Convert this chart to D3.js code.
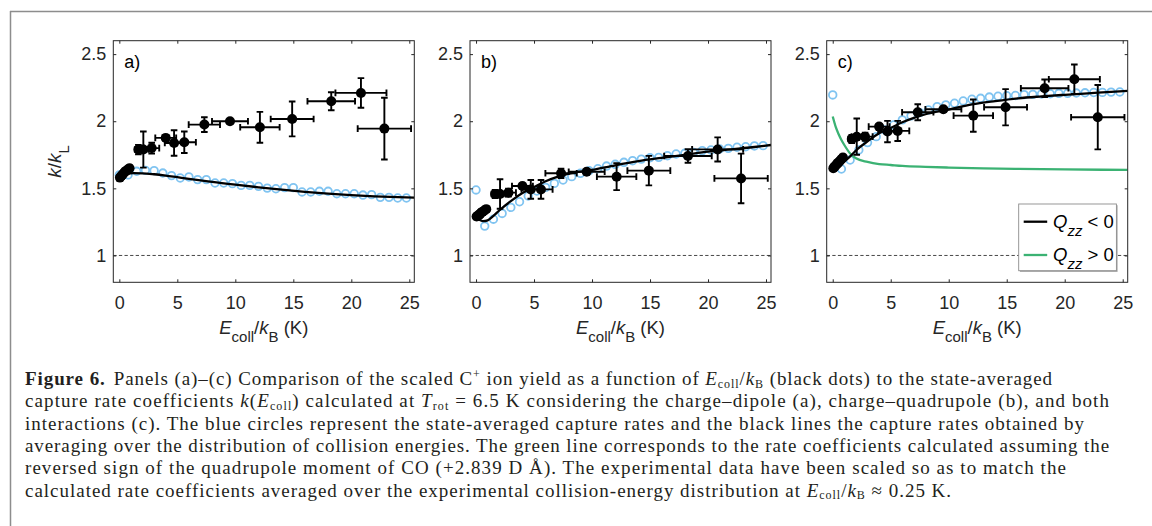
<!DOCTYPE html>
<html><head><meta charset="utf-8">
<script src="https://cdn.jsdelivr.net/npm/d3@7"></script>
<style>
html,body{margin:0;padding:0;background:#fff;}
svg{display:block;}
</style></head><body>
<svg id="fig" width="1152" height="526"></svg>
<script>
// ---- Experimental C+ yield (scaled), shared collision energies ----
const expE    = [0.05,0.15,0.25,0.35,0.45,0.58,0.72,0.88, 1.64,2.07,2.79,4.0,4.72,5.6,7.33,9.54,12.12,14.9,18.27,20.83,22.85];
const expEErr = [0.05,0.06,0.07,0.08,0.09,0.10,0.12,0.14, 0.30,0.45,0.65,0.90,0.80,1.00,1.35,1.55,1.70,1.85,2.05,2.20,2.30];

const expA    = [1.58,1.59,1.60,1.61,1.62,1.63,1.64,1.65, 1.789,1.789,1.80,1.876,1.838,1.843,1.975,2.0,1.955,2.017,2.149,2.211,1.945];
const expAErr = [0.02,0.02,0.02,0.02,0.02,0.02,0.02,0.02, 0.035,0.135,0.04,0.02,0.095,0.08,0.055,0.015,0.115,0.13,0.067,0.11,0.23];
const expB    = [1.29,1.295,1.30,1.31,1.32,1.325,1.335,1.345, 1.458,1.458,1.468,1.517,1.492,1.492,1.612,1.624,1.587,1.632,1.741,1.79,1.574];
const expBErr = [0.02,0.02,0.02,0.02,0.02,0.02,0.02,0.02, 0.03,0.11,0.03,0.02,0.07,0.07,0.035,0.015,0.10,0.11,0.05,0.09,0.185];
const expC    = [1.65,1.66,1.67,1.68,1.69,1.70,1.715,1.73, 1.868,1.885,1.885,1.96,1.923,1.928,2.067,2.089,2.042,2.104,2.246,2.313,2.03];
const expCErr = [0.02,0.02,0.02,0.02,0.02,0.02,0.02,0.02, 0.03,0.135,0.03,0.02,0.08,0.075,0.06,0.015,0.12,0.135,0.065,0.11,0.24];

// ---- State-averaged capture rates (blue circles) ----
const stateE = [0,0.75,1.5,2.25,3,3.75,4.5,5.25,6,6.75,7.5,8.25,9,9.75,10.5,11.25,12,12.75,13.5,14.25,15,15.75,16.5,17.25,18,18.75,19.5,20.25,21,21.75,22.5,23.25,24,24.75];
const stateA = [1.60,1.60,1.627,1.634,1.632,1.614,1.595,1.577,1.585,1.565,1.565,1.54,1.54,1.535,1.522,1.522,1.515,1.502,1.497,1.505,1.505,1.473,1.473,1.478,1.478,1.46,1.46,1.46,1.45,1.453,1.433,1.433,1.428,1.428];
const stateB = [1.488,1.219,1.27,1.313,1.358,1.40,1.443,1.48,1.507,1.537,1.562,1.587,1.612,1.631,1.646,1.666,1.679,1.694,1.706,1.718,1.728,1.731,1.743,1.756,1.761,1.768,1.781,1.786,1.793,1.798,1.806,1.81,1.816,1.818];
const stateC = [2.196,1.644,1.711,1.786,1.841,1.885,1.935,1.972,2.01,2.04,2.064,2.084,2.109,2.122,2.134,2.151,2.164,2.171,2.18,2.186,2.19,2.192,2.198,2.2,2.203,2.205,2.208,2.208,2.21,2.212,2.214,2.215,2.217,2.218];

// ---- Rates averaged over the collision-energy distribution (lines) ----
const avgAE = [0,0.3,0.7,1.2,2,3,4,5,6,7,8,10,12,14,16,18,20,22,24,25.43];
const avgA  = [1.585,1.60,1.61,1.613,1.612,1.605,1.595,1.583,1.571,1.56,1.548,1.527,1.508,1.49,1.474,1.46,1.449,1.44,1.434,1.431];
const avgBE = [0,0.3,0.6,1,1.5,2,3,4,5,6,7,8,10,12,14,16,18,20,22,24,25.43];
const avgB  = [1.29,1.265,1.256,1.262,1.295,1.335,1.405,1.465,1.51,1.553,1.585,1.61,1.637,1.672,1.703,1.727,1.75,1.774,1.79,1.808,1.823];
const avgCE = [0,0.5,1,1.5,2,3,4,5,6,7,8,10,12,14,16,18,20,22,24,25.43];
const avgC  = [1.64,1.665,1.70,1.738,1.782,1.85,1.91,1.95,1.992,2.025,2.052,2.087,2.125,2.15,2.171,2.185,2.197,2.208,2.219,2.226];
const posQE = [0,0.25,0.5,0.75,1,1.5,2,3,4,5,6,8,10,13,16,20,25.43];
const posQ  = [2.035,1.96,1.905,1.86,1.823,1.76,1.724,1.697,1.681,1.674,1.667,1.66,1.655,1.649,1.645,1.641,1.637];

// ---- Axes ----
const xTicks = [0,5,10,15,20,25];
const yTicks = [1,1.5,2,2.5];
const xDomain = [-0.52,25.43];
const yDomain = [0.8,2.6];
const panelLabels = ["a)","b)","c)"];

const C = {axis:"#262626", blue:"#80c4f1", green:"#3bb273", frame:"#8d8d8d", cap:"#231f20"};
const sans = "'Liberation Sans', Arial, Helvetica, sans-serif";
const serif = "'Liberation Serif', 'Times New Roman', serif";

const svg = d3.select("#fig");

// Page frame (top and left rules)
svg.append("line").attr("x1",10).attr("x2",1152).attr("y1",11.5).attr("y2",11.5)
  .attr("stroke",C.frame).attr("stroke-width",1.5);
svg.append("line").attr("x1",10.5).attr("x2",10.5).attr("y1",11).attr("y2",526)
  .attr("stroke",C.frame).attr("stroke-width",1.5);

// Rich text helper: parts {t, it, b, sub, sup, dx}
function rich(sel, parts, size, subSize, subShift, supShift) {
  let cur = 0;
  parts.forEach(p => {
    const ts = sel.append("tspan").text(p.t);
    let target = 0;
    if (p.sub) { target = subShift; ts.attr("font-size", subSize); }
    else if (p.sup) { target = -supShift; ts.attr("font-size", subSize); }
    if (target !== cur) { ts.attr("dy", target - cur); cur = target; }
    if (p.dx) ts.attr("dx", p.dx);
    if (p.it) ts.attr("font-style","italic");
    if (p.b) ts.attr("font-weight","bold");
  });
}

const panels = [
  {y:expA, err:expAErr, st:stateA, lines:[{e:avgAE,k:avgA,c:"#000"}]},
  {y:expB, err:expBErr, st:stateB, lines:[{e:avgBE,k:avgB,c:"#000"}]},
  {y:expC, err:expCErr, st:stateC, lines:[{e:posQE,k:posQ,c:C.green},{e:avgCE,k:avgC,c:"#000"}], legend:true}
];
const lefts = [113.3, 470, 826.7];
const pw = 301, plotTop = 40.7, plotBottom = 282.3;

panels.forEach((P, i) => {
  const L = lefts[i];
  const x = d3.scaleLinear().domain(xDomain).range([L, L+pw]);
  const y = d3.scaleLinear().domain(yDomain).range([plotBottom, plotTop]);
  const g = svg.append("g");

  const clipId = "clip"+i;
  svg.append("clipPath").attr("id",clipId).append("rect")
    .attr("x",L).attr("y",plotTop).attr("width",pw).attr("height",plotBottom-plotTop);
  const plot = g.append("g").attr("clip-path",`url(#${clipId})`);

  // reference k/kL = 1
  plot.append("line").attr("x1",L).attr("x2",L+pw).attr("y1",y(1)).attr("y2",y(1))
    .attr("stroke","#333").attr("stroke-width",0.9).attr("stroke-dasharray","3.3,2.3");

  // state-averaged rates
  plot.selectAll("circle.st").data(stateE.map((e,j)=>[e,P.st[j]])).join("circle")
    .attr("class","st").attr("cx",d=>x(d[0])).attr("cy",d=>y(d[1])).attr("r",3.8)
    .attr("fill","none").attr("stroke",C.blue).attr("stroke-width",1.8);

  // averaged rate curves
  const line = d3.line().x(d=>x(d[0])).y(d=>y(d[1])).curve(d3.curveMonotoneX);
  P.lines.forEach(ln => {
    plot.append("path").datum(ln.e.map((e,j)=>[e,ln.k[j]])).attr("d",line)
      .attr("fill","none").attr("stroke",ln.c).attr("stroke-width",2.3);
  });

  // experimental points with error bars
  const pts = expE.map((e,j)=>({e, ee:expEErr[j], k:P.y[j], ke:P.err[j]}));
  const eb = plot.append("g").attr("stroke","#000").attr("stroke-width",1.9).attr("fill","none");
  const cap = 3.3;
  pts.forEach(p => {
    const cx = x(p.e), cy = y(p.k);
    const y0 = y(p.k - p.ke), y1 = y(p.k + p.ke);
    const x0 = x(p.e - p.ee), x1 = x(p.e + p.ee);
    eb.append("path").attr("d",
      `M${cx},${y0}V${y1}M${cx-cap},${y0}H${cx+cap}M${cx-cap},${y1}H${cx+cap}` +
      `M${x0},${cy}H${x1}M${x0},${cy-cap}V${cy+cap}M${x1},${cy-cap}V${cy+cap}`);
  });
  plot.selectAll("circle.ex").data(pts).join("circle").attr("class","ex")
    .attr("cx",d=>x(d.e)).attr("cy",d=>y(d.k)).attr("r",5).attr("fill","#000");

  // axes box with inward ticks on all sides
  const fmt = d3.format("");
  const bAx = g.append("g").attr("transform",`translate(0,${plotBottom})`)
    .call(d3.axisBottom(x).tickValues(xTicks).tickSize(-3).tickSizeOuter(0).tickPadding(14).tickFormat(fmt));
  const tAx = g.append("g").attr("transform",`translate(0,${plotTop})`)
    .call(d3.axisTop(x).tickValues(xTicks).tickSize(-3).tickSizeOuter(0).tickFormat(""));
  const lAx = g.append("g").attr("transform",`translate(${L},0)`)
    .call(d3.axisLeft(y).tickValues(yTicks).tickSize(-3).tickSizeOuter(0).tickPadding(7).tickFormat(fmt));
  const rAx = g.append("g").attr("transform",`translate(${L+pw},0)`)
    .call(d3.axisRight(y).tickValues(yTicks).tickSize(-3).tickSizeOuter(0).tickFormat(""));
  [bAx,tAx,lAx,rAx].forEach(a => {
    a.select(".domain").remove();
    a.selectAll("line").attr("stroke",C.axis).attr("stroke-width",1);
    a.selectAll("text").attr("font-family",sans).attr("font-size",18).attr("fill",C.axis);
  });
  g.append("rect").attr("x",L).attr("y",plotTop).attr("width",pw).attr("height",plotBottom-plotTop)
    .attr("fill","none").attr("stroke",C.axis).attr("stroke-width",1);

  // panel tag
  g.append("text").attr("x",L+11).attr("y",plotTop+27).attr("font-family",sans)
    .attr("font-size",18).attr("fill","#000").text(panelLabels[i]);

  // x-axis title
  const xt = g.append("text").attr("x",L+pw/2).attr("y",334).attr("text-anchor","middle")
    .attr("font-family",sans).attr("font-size",18.5).attr("fill",C.axis);
  rich(xt, [{t:"E",it:true},{t:"coll",sub:true},{t:"/"},{t:"k",it:true},{t:"B",sub:true},{t:" (K)"}], 18.5, 15, 8, 0);

  if (i === 0) {
    const yt = g.append("text").attr("transform",`translate(61,${(plotTop+plotBottom)/2}) rotate(-90)`)
      .attr("text-anchor","middle").attr("font-family",sans).attr("font-size",19).attr("fill",C.axis);
    rich(yt, [{t:"k",it:true},{t:"/"},{t:"k",it:true},{t:"L",sub:true}], 19, 15, 8, 0);
  }

  if (P.legend) {
    const lw = 97.7, lh = 66.7;
    const lx = L+pw-11.3-lw, ly = plotBottom-11.6-lh;
    const lg = g.append("g");
    lg.append("rect").attr("x",lx+1.2).attr("y",ly+1.2).attr("width",lw).attr("height",lh).attr("fill","#a8a8a8");
    lg.append("rect").attr("x",lx).attr("y",ly).attr("width",lw).attr("height",lh)
      .attr("fill","#fff").attr("stroke","#8c8c8c").attr("stroke-width",0.9);
    const items = [{c:"#000",s:"<"},{c:C.green,s:">"}];
    items.forEach((it,j) => {
      const yy = ly + 17.7 + j*33.3;
      lg.append("line").attr("x1",lx+5).attr("x2",lx+28.5).attr("y1",yy).attr("y2",yy)
        .attr("stroke",it.c).attr("stroke-width",2.3);
      const tx = lg.append("text").attr("x",lx+34.4).attr("y",yy+6).attr("font-family",sans)
        .attr("font-size",18.5).attr("fill","#000");
      rich(tx, [{t:"Q",it:true},{t:"zz",it:true,sub:true},{t:" "+it.s+" 0"}], 18.5, 15, 8, 0);
    });
  }
});

// ---- Caption ----
const capLines = [
  [{t:"Figure 6.",b:true},{t:"Panels (a)–(c) Comparison of the scaled C",dx:8},{t:"+",sup:true},{t:" ion yield as a function of "},{t:"E",it:true},{t:"coll",sub:true},{t:"/"},{t:"k",it:true},{t:"B",sub:true},{t:" (black dots) to the state-averaged"}],
  [{t:"capture rate coefficients "},{t:"k",it:true},{t:"("},{t:"E",it:true},{t:"coll",sub:true},{t:") calculated at "},{t:"T",it:true},{t:"rot",sub:true},{t:" = 6.5 K considering the charge–dipole (a), charge–quadrupole (b), and both"}],
  [{t:"interactions (c). The blue circles represent the state-averaged capture rates and the black lines the capture rates obtained by"}],
  [{t:"averaging over the distribution of collision energies. The green line corresponds to the rate coefficients calculated assuming the"}],
  [{t:"reversed sign of the quadrupole moment of CO (+2.839 D Å). The experimental data have been scaled so as to match the"}],
  [{t:"calculated rate coefficients averaged over the experimental collision-energy distribution at "},{t:"E",it:true},{t:"coll",sub:true},{t:"/"},{t:"k",it:true},{t:"B",sub:true},{t:" ≈ 0.25 K."}]
];
const capRight = [1045,1110,1085,1110,1067,952];
capLines.forEach((parts,i) => {
  const t = svg.append("text").attr("x",25).attr("y",385+i*22.35)
    .attr("font-family",serif).attr("font-size",19).attr("fill",C.cap);
  rich(t, parts, 19, 12, 2.5, 7);
  const w = t.node().getComputedTextLength();
  const n = parts.reduce((s,p)=>s+p.t.length,0);
  const target = capRight[i]-25;
  t.attr("letter-spacing", ((target - w)/n).toFixed(3));
});
</script>
</body></html>
